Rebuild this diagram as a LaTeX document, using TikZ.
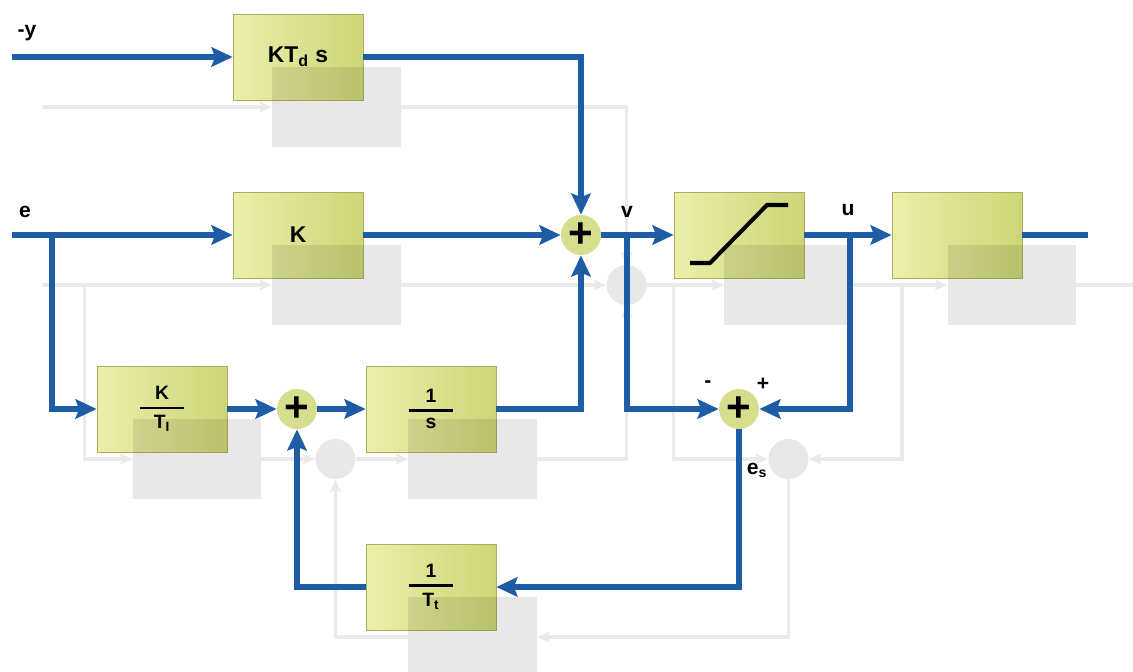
\documentclass[tikz,border=0pt]{standalone}
\usepackage{amsmath}
\usepackage{fontspec}
\setmainfont{Liberation Sans}
\usetikzlibrary{arrows.meta}
\definecolor{flowblue}{RGB}{31,92,166}
\definecolor{boxlight}{RGB}{236,239,170}
\definecolor{boxdark}{RGB}{204,213,118}
\definecolor{boxedge}{RGB}{168,176,90}
\definecolor{sumfill}{RGB}{214,222,142}
\definecolor{ghostgrey}{RGB}{234,234,234}
\newcommand{\blockfrac}[2]{$\genfrac{}{}{1.3pt}{0}{\makebox[0.9cm]{#1}}{\makebox[0.9cm]{#2}}$}

\begin{document}
\begin{tikzpicture}[x=0.02cm, y=-0.02cm,
block/.style={rectangle, draw=boxedge, left color=boxlight, right color=boxdark, minimum width=2.6cm, minimum height=1.72cm, font=\fontsize{13}{15}\selectfont\bfseries},
fracblock/.style={block, font=\fontsize{11}{13}\selectfont\bfseries},
sum/.style={circle, fill=sumfill, inner sep=0pt, minimum size=0.8cm, font=\fontsize{24}{24}\selectfont\bfseries},
lbl/.style={inner sep=1pt, font=\fontsize{12}{14}\selectfont\bfseries},
ghostblock/.style={rectangle, inner sep=0pt, minimum width=2.56cm, minimum height=1.6cm},
ghostsum/.style={circle, inner sep=0pt, minimum size=0.8cm},
ghostfill/.style={fill=black, fill opacity=0.09},
ghostline/.style={draw=ghostgrey, line width=2pt},
ghostsig/.style={ghostline, -{Stealth[length=7pt,width=6pt,inset=1pt]}},
sigline/.style={draw=flowblue, line width=3.4pt},
sig/.style={sigline, -{Stealth[length=12pt,width=11pt,inset=2pt]}}
]
\useasboundingbox (0,0) rectangle (1133,672);
%Shadow nodes
\begin{scope}[shift={(31,50)}, xscale=1.025]
\node[ghostblock] (gktd)   at (298,57)  {};
\node[ghostblock] (gkp)    at (298,235) {};
\node[ghostblock] (gki)    at (162,409) {};
\node[ghostsum]   (gs2)    at (297,409) {};
\node[ghostblock] (ginteg) at (431,409) {};
\node[ghostblock] (gtt)    at (431,587) {};
\node[ghostsum]   (gs1)    at (581,235) {};
\node[ghostblock] (gsat)   at (739,235) {};
\node[ghostblock] (gplant) at (957,235) {};
\node[ghostsum]   (gs3)    at (739,409) {};
\coordinate (gyin) at (12,57);
\coordinate (gein) at (12,235);
\coordinate (gebr) at (52,235);
\coordinate (gvbr) at (627,235);
\coordinate (gubr) at (850,235);
\coordinate (guout) at (1088,235);
\end{scope}
%Shadow lines
\draw[ghostsig] (gyin) -- (gktd);
\draw[ghostsig] (gktd) -| (gs1);
\draw[ghostsig] (gein) -- (gkp);
\draw[ghostsig] (gkp) -- (gs1);
\draw[ghostsig] (gebr) |- (gki);
\draw[ghostsig] (gki) -- (gs2);
\draw[ghostsig] (gs2) -- (ginteg);
\draw[ghostsig] (ginteg) -| (gs1);
\draw[ghostsig] (gs1) -- (gsat);
\draw[ghostsig] (gsat) -- (gplant);
\draw[ghostline] (gplant) -- (guout);
\draw[ghostsig] (gvbr) |- (gs3);
\draw[ghostsig] (gubr) |- (gs3);
\draw[ghostsig] (gs3) |- (gtt);
\draw[ghostsig] (gtt) -| (gs2);
%Nodes
\node[block]     (ktd)    at (298,57)  {KT\textsubscript{d} s};
\node[block]     (kp)     at (298,235) {K};
\node[fracblock] (ki)     at (162,409) {\blockfrac{K}{T\textsubscript{I}}};
\node[sum]       (s2)     at (297,409) {+};
\node[fracblock] (integ)  at (431,409) {\blockfrac{1}{s}};
\node[fracblock] (tt)     at (431,587) {\blockfrac{1}{T\textsubscript{t}}};
\node[sum]       (s1)     at (581,235) {+};
\node[block]     (sat)    at (739,235) {};
\node[block]     (plant)  at (957,235) {};
\node[sum]       (s3)     at (739,409) {+};
\coordinate (yin) at (12,57);
\coordinate (ein) at (12,235);
\coordinate (ebr) at (52,235);
\coordinate (vbr) at (627,235);
\coordinate (ubr) at (850,235);
\coordinate (uout) at (1088,235);
%Labels
\node[lbl] (ylab)  at (27,33)   {-y};
\node[lbl] (elab)  at (25,212)  {e};
\node[lbl] (vlab)  at (627,212) {v};
\node[lbl] (ulab)  at (848,210) {u};
\node[lbl] (minus) at (708,384) {-};
\node[lbl] (plus)  at (763,384) {+};
\node[lbl] (eslab) at (757,470) {e\textsubscript{s}};
%Saturation curve
\draw[line width=2.3pt] ([shift={(-49,28)}]sat.center) -- ++(20,0) -- ++(57,-58) -- ++(21,0);
%Shadows over the blocks
\foreach \g in {gktd,gkp,gki,ginteg,gtt,gsat,gplant}
  \fill[ghostfill] (\g.south west) rectangle (\g.north east);
\foreach \g in {gs1,gs2,gs3}
  \fill[ghostfill] (\g) circle[radius=0.4cm];
%Lines
\draw[sig] (yin) -- (ktd);
\draw[sig] (ktd) -| (s1);
\draw[sig] (ein) -- (kp);
\draw[sig] (kp) -- (s1);
\draw[sig] (ebr) |- (ki);
\draw[sig] (ki) -- (s2);
\draw[sig] (s2) -- (integ);
\draw[sig] (integ) -| (s1);
\draw[sig] (s1) -- (sat);
\draw[sig] (sat) -- (plant);
\draw[sigline] (plant) -- (uout);
\draw[sig] (vbr) |- (s3);
\draw[sig] (ubr) |- (s3);
\draw[sig] (s3) |- (tt);
\draw[sig] (tt) -| (s2);
\end{tikzpicture}
\end{document}
